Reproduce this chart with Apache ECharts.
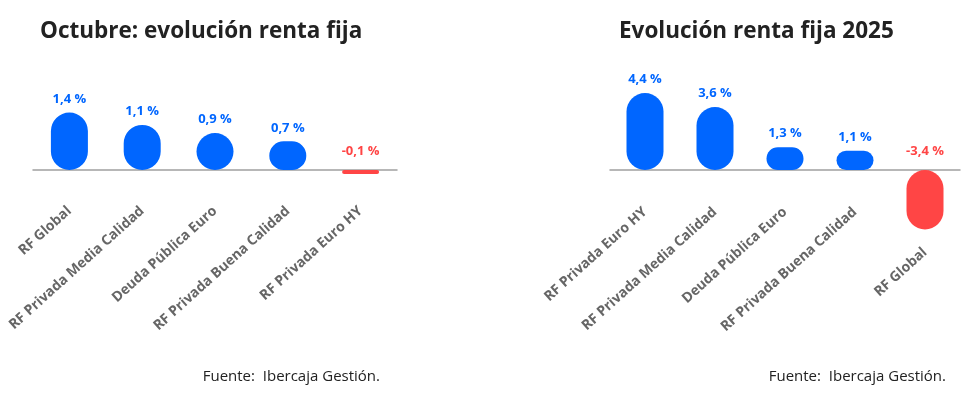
<!DOCTYPE html>
<html><head><meta charset="utf-8">
<script src="https://cdn.jsdelivr.net/npm/echarts@6/dist/echarts.min.js"></script>
<style>html,body{margin:0;padding:0;background:#fff}#c{width:966px;height:393px}</style>
</head><body><div id="c"></div>
<script>
const leftTitle = 'Octubre: evolución renta fija';
const leftCategories = ['RF Global', 'RF Privada Media Calidad', 'Deuda Pública Euro', 'RF Privada Buena Calidad', 'RF Privada Euro HY'];
const leftValues = [1.4, 1.1, 0.9, 0.7, -0.1];
const rightTitle = 'Evolución renta fija 2025';
const rightCategories = ['RF Privada Euro HY', 'RF Privada Media Calidad', 'Deuda Pública Euro', 'RF Privada Buena Calidad', 'RF Global'];
const rightValues = [4.4, 3.6, 1.3, 1.1, -3.4];
const sourceText = 'Fuente:  Ibercaja Gestión.';

const FONT = 'Open Sans';
const BLUE = '#0066ff', RED = '#ff4545';
const fmt = v => v.toFixed(1).replace('.', ',') + ' %';
const mk = vals => vals.map(v => ({
  value: v,
  itemStyle: {color: v < 0 ? RED : BLUE},
  label: {color: v < 0 ? RED : BLUE, distance: v < 0 ? 12 : 7}
}));
// labels of large negative bars are pushed below the bar
const isDeep = v => v < -1;
const catItems = (cats, vals) => cats.map((c, i) =>
  isDeep(vals[i]) ? {value: c, textStyle: {padding: [0, 27, 0, 0]}} : c);

const xAxisBase = (gi, cats, vals, margin) => ({
  type: 'category', gridIndex: gi, data: catItems(cats, vals),
  axisLine: {onZero: true, lineStyle: {color: '#a0a0a0', width: 1.5}},
  axisTick: {show: false},
  axisLabel: {interval: 0, rotate: 42, color: '#666', fontFamily: FONT, fontWeight: 'bold', fontSize: 14,
              lineHeight: 20, margin: margin, hideOverlap: false,
              formatter: (val, idx) => isDeep(vals[idx]) ? '\n\n\n' + val : val}
});
const yAxisBase = (gi, min, max) => ({type: 'value', gridIndex: gi, min, max, show: false, splitLine: {show: false}});
const seriesBase = (i, vals) => ({
  type: 'bar', xAxisIndex: i, yAxisIndex: i, data: mk(vals), barWidth: 37,
  itemStyle: {borderRadius: 18.5},
  label: {show: true, position: 'top', fontFamily: FONT, fontWeight: 'bold', fontSize: 13,
          formatter: p => fmt(p.value)}
});

const chart = echarts.init(document.getElementById('c'), null, {renderer: 'canvas'});
chart.setOption({
  animation: false,
  title: [
    {text: leftTitle, left: 40, top: 20, padding: 0, textStyle: {fontFamily: FONT, fontWeight: 'bold', fontSize: 22.5, color: '#222'}},
    {text: rightTitle, left: 619, top: 20, padding: 0, textStyle: {fontFamily: FONT, fontWeight: 'bold', fontSize: 22.5, color: '#222'}},
    {text: sourceText, right: 586, top: 369, padding: 0, textStyle: {fontFamily: FONT, fontWeight: 'normal', fontSize: 15, color: '#222'}},
    {text: sourceText, right: 20, top: 369, padding: 0, textStyle: {fontFamily: FONT, fontWeight: 'normal', fontSize: 15, color: '#222'}}
  ],
  grid: [
    {left: 33, width: 364, top: 88, height: 123},
    {left: 610, width: 350, top: 82.5, height: 157.5}
  ],
  xAxis: [xAxisBase(0, leftCategories, leftValues, -2), xAxisBase(1, rightCategories, rightValues, -30)],
  yAxis: [yAxisBase(0, -1, 2), yAxisBase(1, -4, 5)],
  series: [seriesBase(0, leftValues), seriesBase(1, rightValues)]
});
</script></body></html>
